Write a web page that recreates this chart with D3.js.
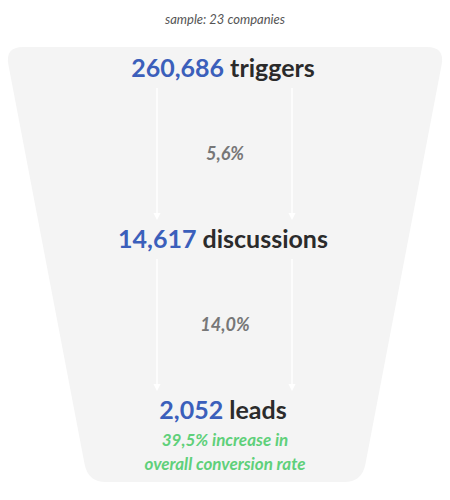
<html>
<head>
<script src="https://d3js.org/d3.v7.min.js"></script>
<style>
  body { margin: 0; background: #fff; }
  text { font-family: Lato, "Open Sans", sans-serif; }
</style>
</head>
<body>
<div id="chart"></div>
<script>
const stages = ["triggers", "discussions", "leads"];
const counts = [260686, 14617, 2052];
const rates = ["5,6%", "14,0%"];
const note = ["39,5% increase in", "overall conversion rate"];
const subtitle = "sample: 23 companies";

const W = 450, H = 500;
const svg = d3.select("#chart").append("svg").attr("width", W).attr("height", H);

const defs = svg.append("defs");
const f = defs.append("filter").attr("id", "sh").attr("x", "-20%").attr("y", "-40%").attr("width", "140%").attr("height", "200%");
f.append("feDropShadow").attr("dx", 0).attr("dy", 8).attr("stdDeviation", 9).attr("flood-color", "#000").attr("flood-opacity", 0.12);

// vertical position of each stage
const y = d3.scaleBand().domain(stages).range([68, 410]).paddingInner(1.25);
// box width shrinks with stage
const wScale = d3.scaleOrdinal().domain(stages).range([332, 272, 220]);
const fmt = d3.format(",");

// funnel background
const fx = d3.scaleLinear().domain([47, 482]).range([5, 88]);
const fTop = 47, fBot = 482;
const funnel = d3.path();
const r = 18;
funnel.moveTo(fx(fTop) + r, fTop);
funnel.lineTo(W - fx(fTop) - r, fTop);
funnel.quadraticCurveTo(W - fx(fTop), fTop, W - fx(fTop + r), fTop + r);
funnel.lineTo(W - fx(fBot - r), fBot - r);
funnel.quadraticCurveTo(W - fx(fBot), fBot, W - fx(fBot) - r, fBot);
funnel.lineTo(fx(fBot) + r, fBot);
funnel.quadraticCurveTo(fx(fBot), fBot, fx(fBot - r), fBot - r);
funnel.lineTo(fx(fTop + r), fTop + r);
funnel.quadraticCurveTo(fx(fTop), fTop, fx(fTop) + r, fTop);
svg.append("path").attr("d", funnel.toString()).attr("fill", "#f4f4f4");

svg.append("text").attr("x", W / 2).attr("y", 24).attr("text-anchor", "middle")
  .attr("font-size", 13).attr("font-style", "italic").attr("fill", "#555").text(subtitle);

const g = svg.selectAll("g.stage").data(stages).join("g").attr("class", "stage");
g.append("rect")
  .attr("x", d => W / 2 - wScale(d) / 2).attr("y", d => y(d))
  .attr("width", d => wScale(d)).attr("height", y.bandwidth())
  .attr("rx", 10).attr("fill", "#fff").attr("filter", "url(#sh)");
const t = g.append("text")
  .attr("x", W / 2 - 2).attr("y", d => y(d) + y.bandwidth() / 2 + 9)
  .attr("text-anchor", "middle").attr("font-size", 25).attr("font-weight", 700);
t.append("tspan").attr("fill", "#3b5fbb").text((d, i) => fmt(counts[i]));
t.append("tspan").attr("fill", "#2b2b2b").text(d => " " + d);

// arrows + rates between stages
const gaps = rates.map((rt, i) => ({ r: rt, y0: y(stages[i]) + y.bandwidth(), y1: y(stages[i + 1]) }));
const a = svg.selectAll("g.gap").data(gaps).join("g").attr("class", "gap");
[157, 292].forEach(ax => {
  a.append("line").attr("x1", ax).attr("x2", ax)
    .attr("y1", d => d.y0 + 20).attr("y2", d => d.y1 - 22)
    .attr("stroke", "#fff").attr("stroke-width", 1.5);
  a.append("path")
    .attr("d", d => `M${ax - 3.5},${d.y1 - 26} L${ax + 3.5},${d.y1 - 26} L${ax},${d.y1 - 19} Z`)
    .attr("fill", "#fff");
});
a.append("text").attr("x", W / 2).attr("y", d => (d.y0 + d.y1) / 2 + 6)
  .attr("text-anchor", "middle").attr("font-size", 18).attr("font-style", "italic")
  .attr("font-weight", 700).attr("fill", "#777").text(d => d.r);

svg.selectAll("text.note").data(note).join("text").attr("class", "note")
  .attr("x", W / 2).attr("y", (d, i) => 446 + i * 24).attr("text-anchor", "middle")
  .attr("font-size", 17).attr("font-style", "italic").attr("font-weight", 700)
  .attr("fill", "#5fd07a").text(d => d);
</script>
</body>
</html>
